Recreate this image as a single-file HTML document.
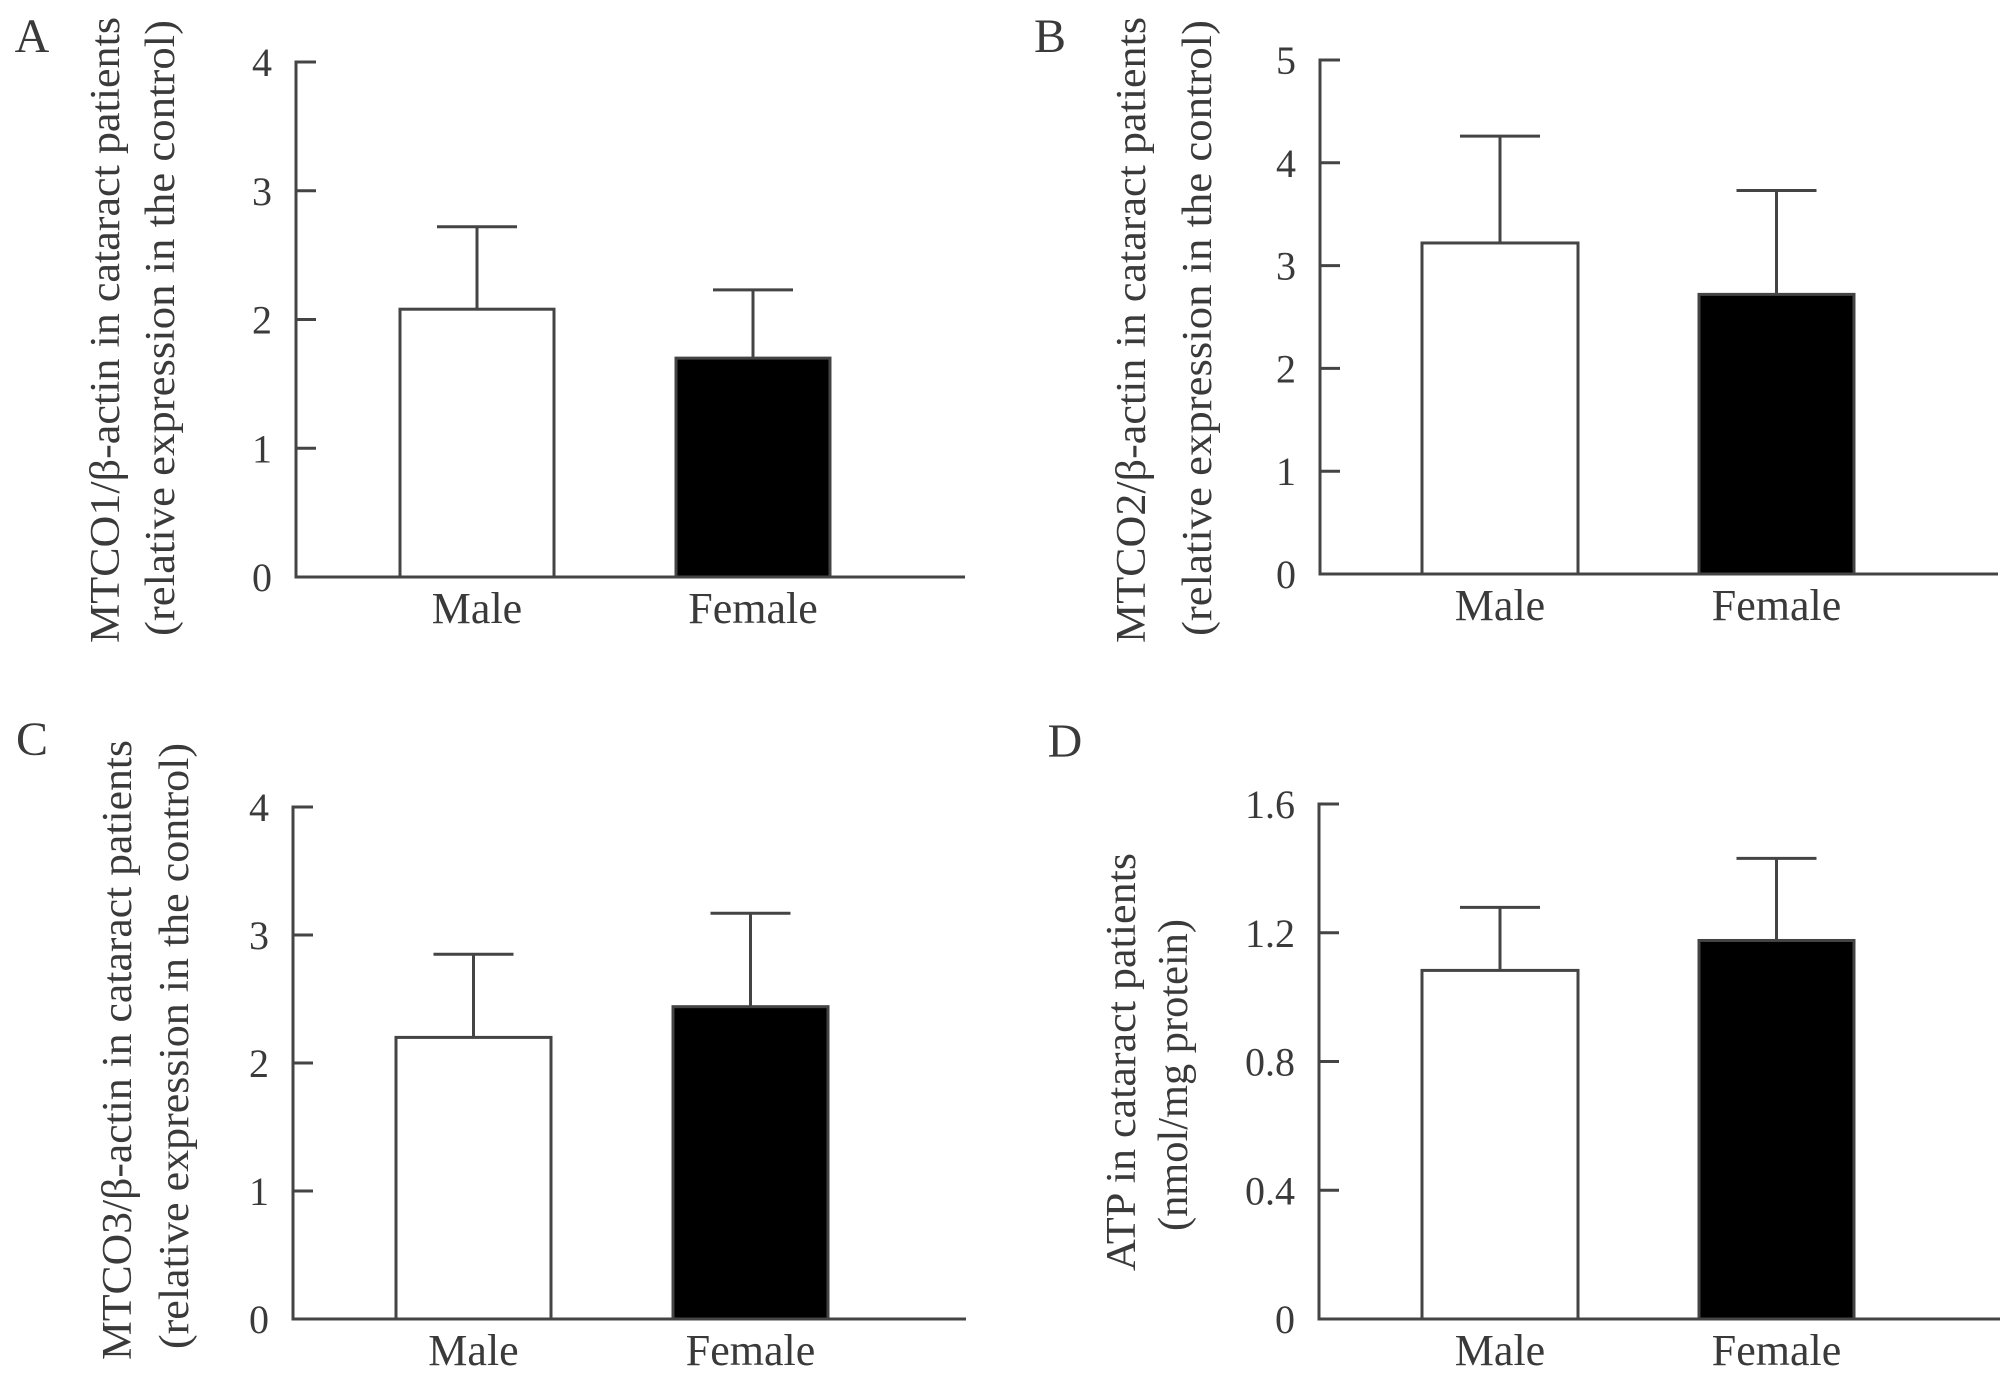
<!DOCTYPE html>
<html><head><meta charset="utf-8"><style>
html,body{margin:0;padding:0;background:#fff;}
svg{display:block;}
text{font-family:"Liberation Serif",serif;fill:#3a3a3a;}
</style></head>
<body>
<svg id="fig" width="2008" height="1380" viewBox="0 0 2008 1380"></svg>
<script>
const categories = ["Male", "Female"];
const aMeans = [2.08, 1.70];
const aErrs = [2.72, 2.23];
const aTicks = ["0","1","2","3","4"];
const bMeans = [3.22, 2.72];
const bErrs = [4.26, 3.73];
const bTicks = ["0","1","2","3","4","5"];
const cMeans = [2.20, 2.44];
const cErrs = [2.85, 3.17];
const cTicks = ["0","1","2","3","4"];
const dMeans = [1.083, 1.176];
const dErrs = [1.279, 1.431];
const dTicks = ["0","0.4","0.8","1.2","1.6"];

const NS = "http://www.w3.org/2000/svg";
const svg = document.getElementById("fig");
function mk(tag, attrs, parent) {
  const e = document.createElementNS(NS, tag);
  for (const k in attrs) e.setAttribute(k, attrs[k]);
  (parent || svg).appendChild(e);
  return e;
}
const INK = "#444";

function panel(p) {
  const g = mk("g", {});
  
  
  const tickVals = p.ticks.map(Number);
  const maxV = tickVals[tickVals.length - 1];
  const y = v => p.y0 + (p.yTop - p.y0) * (v / maxV);
  const L = mk("text", {x: p.lx, y: p.ly + 16, "font-size": 48, "text-anchor": "middle"}, g);
  L.textContent = p.id;
  
  
  const ax = mk("line", {x1: p.ax, y1: y(maxV) - 1.5, x2: p.ax, y2: p.y0, stroke: INK, "stroke-width": 3}, g);
  
  
  const xa = mk("line", {x1: p.ax - 1.5, y1: p.y0, x2: p.xEnd, y2: p.y0, stroke: INK, "stroke-width": 3}, g);
  
  
  p.ticks.forEach((t, i) => {
    const ty = y(tickVals[i]);
    const tk = mk("line", {x1: p.ax, y1: ty, x2: p.ax + 20, y2: ty, stroke: INK, "stroke-width": 3}, g);
    
    
    const tl = mk("text", {x: p.ax - 24, y: ty + 14, "font-size": 40, "text-anchor": "end"}, g);
    tl.textContent = t;
    
    
  });
  p.means.forEach((m, i) => {
    const [x0, x1] = p.bars[i];
    const cx = (x0 + x1) / 2;
    const eb = mk("line", {x1: cx, y1: y(m), x2: cx, y2: y(p.errs[i]), stroke: INK, "stroke-width": 3}, g);
    
    
    const cap = mk("line", {x1: cx - 40, y1: y(p.errs[i]), x2: cx + 40, y2: y(p.errs[i]), stroke: INK, "stroke-width": 3}, g);
    
    
    const r = mk("rect", {x: x0, y: y(m), width: x1 - x0, height: p.y0 - y(m),
      fill: i === 0 ? "#fff" : "#000", stroke: INK, "stroke-width": 3}, g);
    
    
    const cl = mk("text", {x: cx, y: p.y0 + 46, "font-size": 44, "text-anchor": "middle"}, g);
    cl.textContent = categories[i];
    
    
  });
  p.titles.forEach((tt, i) => {
    const t = mk("text", {transform: `translate(${tt.x},${tt.cy}) rotate(-90)`, x: 0, y: 0,
      "font-size": 42, "text-anchor": "middle", "dominant-baseline": "central",
      textLength: tt.len, lengthAdjust: "spacingAndGlyphs"}, g);
    t.textContent = tt.text;
    
    
  });
}

panel({id: "A", lx: 32, ly: 36, ax: 296, y0: 577, yTop: 62, xEnd: 965,
  ticks: aTicks, means: aMeans, errs: aErrs, bars: [[400, 554], [676, 830]],
  titles: [{x: 106, cy: 330, len: 626, text: "MTCO1/\u03b2-actin in cataract  patients"},
           {x: 161, cy: 328, len: 616, text: "(relative expression in the control)"}]});
panel({id: "B", lx: 1050, ly: 36, ax: 1320, y0: 574, yTop: 60, xEnd: 1998,
  ticks: bTicks, means: bMeans, errs: bErrs, bars: [[1422, 1578], [1699, 1854]],
  titles: [{x: 1132, cy: 330, len: 626, text: "MTCO2/\u03b2-actin in cataract  patients"},
           {x: 1198, cy: 328, len: 616, text: "(relative expression in the control)"}]});
panel({id: "C", lx: 32, ly: 739, ax: 293, y0: 1319, yTop: 807, xEnd: 966,
  ticks: cTicks, means: cMeans, errs: cErrs, bars: [[396, 551], [673, 828]],
  titles: [{x: 118, cy: 1050, len: 620, text: "MTCO3/\u03b2-actin in cataract  patients"},
           {x: 175, cy: 1046, len: 606, text: "(relative expression in the control)"}]});
panel({id: "D", lx: 1065, ly: 741, ax: 1319, y0: 1319, yTop: 804, xEnd: 2000,
  ticks: dTicks, means: dMeans, errs: dErrs, bars: [[1422, 1578], [1699, 1854]],
  titles: [{x: 1122, cy: 1062, len: 418, text: "ATP in cataract  patients"},
           {x: 1174, cy: 1075, len: 312, text: "(nmol/mg protein)"}]});
</script>
</body></html>
